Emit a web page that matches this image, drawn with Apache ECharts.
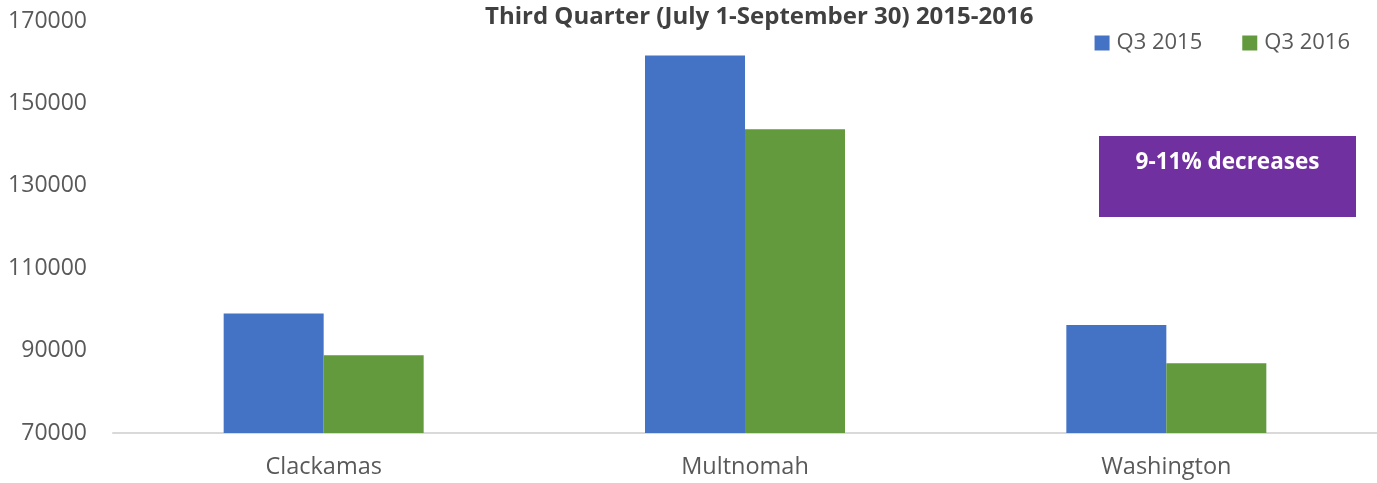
<!DOCTYPE html>
<html>
<head>
<meta charset="utf-8">
<script src="https://cdn.jsdelivr.net/npm/echarts@6/dist/echarts.min.js"></script>
<style>
html,body{margin:0;padding:0;background:#fff;}
#chart{width:1377px;height:483px;}
</style>
</head>
<body>
<div id="chart"></div>
<script>
const categories = ['Clackamas', 'Multnomah', 'Washington'];
const q3_2015 = [99000, 161600, 96200];
const q3_2016 = [88900, 143700, 86900];
const seriesNames = ['Q3 2015', 'Q3 2016'];
const titleText = 'Third Quarter (July 1-September 30) 2015-2016';
const noteText = '9-11% decreases';

const chart = echarts.init(document.getElementById('chart'));
const font = '"Open Sans", "Noto Sans", sans-serif';
chart.setOption({
  animation: false,
  title: {
    text: titleText,
    left: 480, top: 0,
    textStyle: {fontFamily: font, fontSize: 24, fontWeight: 'bold', color: '#404040'}
  },
  legend: {
    data: seriesNames,
    right: 22, top: 27,
    itemWidth: 15, itemHeight: 15, itemGap: 40,
    icon: 'rect',
    textStyle: {fontFamily: font, fontSize: 22, color: '#595959', padding: [0, 0, 0, 2]}
  },
  grid: {left: 113, right: 0, top: 21, bottom: 50, containLabel: false},
  xAxis: {
    type: 'category',
    data: categories,
    axisLine: {lineStyle: {color: '#d9d9d9', width: 2}},
    axisTick: {show: false},
    axisLabel: {fontFamily: font, fontSize: 23.5, color: '#595959', margin: 22}
  },
  yAxis: {
    type: 'value',
    min: 70000, max: 170000, interval: 20000,
    splitLine: {show: false},
    axisLine: {show: false},
    axisTick: {show: false},
    axisLabel: {fontFamily: font, fontSize: 23, color: '#595959', margin: 26, formatter: v => String(v)}
  },
  series: [
    {name: seriesNames[0], type: 'bar', data: q3_2015, barWidth: 100, barGap: '0%', itemStyle: {color: '#4472C4'}},
    {name: seriesNames[1], type: 'bar', data: q3_2016, barWidth: 100, barGap: '0%', itemStyle: {color: '#629A3D'}}
  ],
  graphic: [{
    type: 'group', left: 1099, top: 136,
    children: [
      {type: 'rect', shape: {x: 0, y: 0, width: 257, height: 81}, style: {fill: '#7030A0'}},
      {type: 'text', x: 128.5, y: 27, style: {text: noteText, fill: '#fff', font: 'bold 22.5px "Open Sans", sans-serif', align: 'center', verticalAlign: 'middle'}}
    ]
  }]
});
</script>
</body>
</html>
